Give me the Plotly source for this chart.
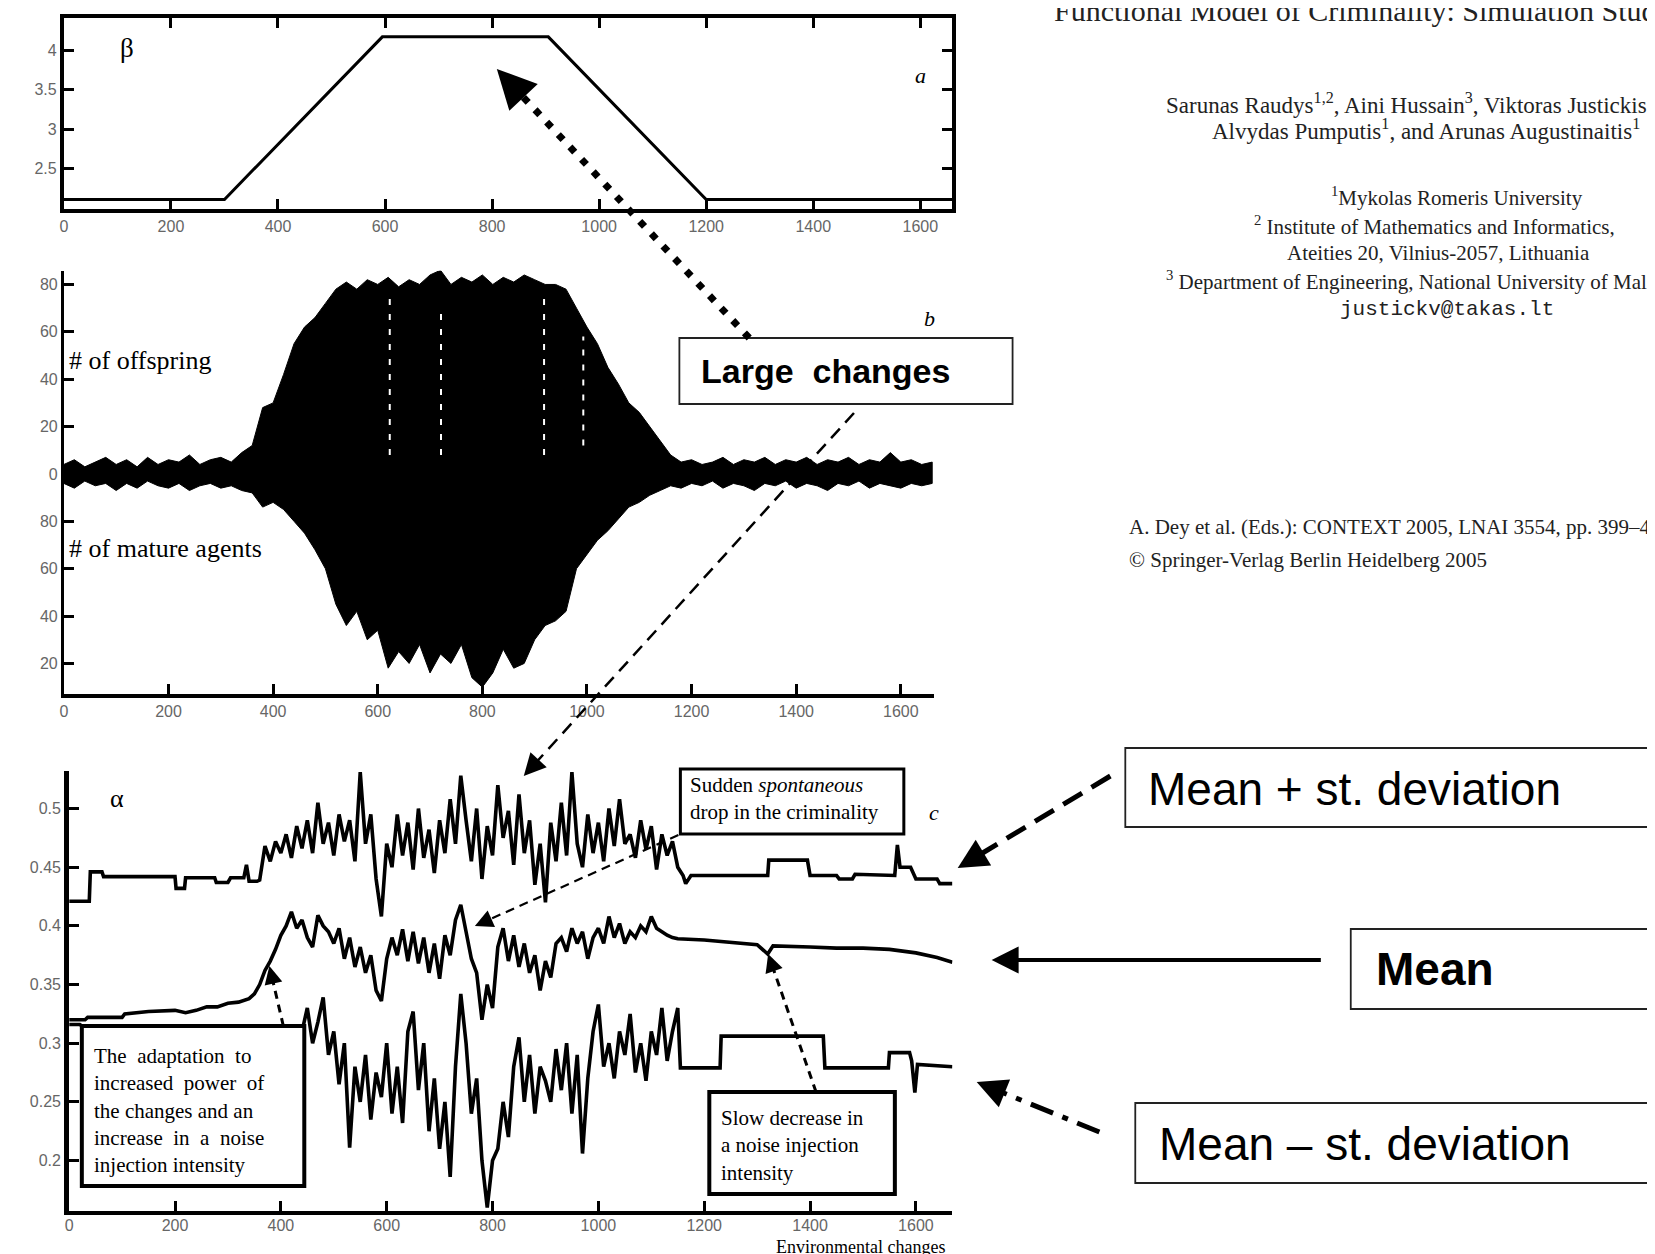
import math
import plotly.graph_objects as go

W, H = 1655, 1254

# ---------------- data ----------------
# panel a: beta
beta_x = [0, 300, 595, 905, 1200, 1660]
beta_y = [2.11, 2.11, 4.17, 4.17, 2.11, 2.11]

# panel b: envelope of the offspring (up) / mature agents (down, deviation from 100)
off_x = [0, 20, 40, 60, 80, 100, 120, 140, 160, 180, 200, 220, 240, 260, 280, 300, 320, 340,
         360, 380, 400, 420, 440, 460, 480, 500, 520, 540, 560, 580, 600, 620, 640, 660, 680,
         700, 720, 740, 760, 780, 800, 820, 840, 860, 880, 900, 920, 940, 960, 980, 1000, 1020,
         1040, 1060, 1080, 1100, 1120, 1140, 1160, 1180, 1200, 1220, 1240, 1260, 1280, 1300,
         1320, 1340, 1360, 1380, 1400, 1420, 1440, 1460, 1480, 1500, 1520, 1540, 1560, 1580,
         1600, 1620, 1640, 1660]
offspring_top = [4, 6, 3, 5, 7, 4, 6, 3, 7, 4, 6, 5, 8, 4, 6, 7, 5, 9,
                 12, 28, 30, 42, 55, 62, 66, 72, 78, 81, 78, 82, 80, 83, 79, 82, 80,
                 84, 86, 80, 83, 81, 84, 80, 83, 81, 84, 82, 80, 80, 78, 70, 62, 55,
                 45, 38, 30, 26, 20, 14, 8, 5, 6, 4, 5, 7, 4, 6,
                 5, 7, 4, 6, 5, 7, 4, 6, 5, 7, 4, 6, 5, 9,
                 5, 6, 4, 5]
mature_dev = [-4, -6, -3, -5, -4, -7, -4, -6, -3, -5, -6, -4, -7, -5, -4, -6, -5, -7,
              -8, -14, -12, -15, -20, -25, -32, -40, -55, -64, -58, -70, -66, -82, -75, -80, -72,
              -84, -76, -80, -72, -86, -90, -84, -74, -82, -80, -70, -64, -62, -58, -40, -34, -28,
              -24, -19, -14, -12, -9, -7, -5, -6, -4, -5, -3, -6, -4, -5,
              -7, -4, -5, -3, -6, -4, -5, -7, -4, -5, -3, -6, -4, -5,
              -6, -4, -5, -4]
# white gaps (missing samples) visible inside the offspring burst
gap_x = [623, 721, 918, 993]
gap_top = [76, 70, 74, 58]
gap_bottom = [8, 8, 8, 12]

# panel c: alpha statistics
noisy_x = [360, 370, 380, 390, 400, 410, 420, 430, 440, 450, 460, 470, 480, 490, 500, 510, 520,
           530, 540, 550, 560, 570, 580, 590, 600, 610, 620, 630, 640, 650, 660, 670, 680, 690,
           700, 710, 720, 730, 740, 750, 760, 770, 780, 790, 800, 810, 820, 830, 840, 850, 860,
           870, 880, 890, 900, 910, 920, 930, 940, 950, 960, 970, 980, 990, 1000, 1010, 1020,
           1030, 1040, 1050, 1060, 1070, 1080, 1090, 1100, 1110, 1120, 1130, 1140, 1150]

top_x = ([0, 38, 40, 62, 65, 200, 202, 218, 220, 275, 278, 300, 305, 330, 335, 340, 355]
         + noisy_x
         + [1160, 1165, 1175, 1320, 1322, 1395, 1400, 1450, 1455, 1480, 1485, 1560, 1565,
            1570, 1590, 1600, 1640, 1645, 1669])
top_y = ([0.421, 0.421, 0.446, 0.446, 0.442, 0.442, 0.432, 0.432, 0.441, 0.441, 0.437, 0.437,
          0.441, 0.441, 0.452, 0.438, 0.438]
         + [0.439, 0.468, 0.455, 0.472, 0.462, 0.478, 0.458, 0.485, 0.466, 0.490, 0.462, 0.505,
            0.470, 0.488, 0.460, 0.495, 0.472, 0.490, 0.455, 0.531, 0.470, 0.495, 0.440, 0.408,
            0.470, 0.450, 0.495, 0.460, 0.488, 0.448, 0.500, 0.458, 0.482, 0.445, 0.490, 0.462,
            0.508, 0.470, 0.528, 0.490, 0.455, 0.500, 0.440, 0.485, 0.460, 0.520, 0.475, 0.498,
            0.452, 0.512, 0.462, 0.490, 0.435, 0.470, 0.420, 0.488, 0.455, 0.505, 0.460, 0.531,
            0.470, 0.450, 0.495, 0.462, 0.488, 0.455, 0.500, 0.468, 0.508, 0.470, 0.478, 0.458,
            0.490, 0.465, 0.485, 0.448, 0.478, 0.460, 0.472, 0.450]
         + [0.443, 0.436, 0.443, 0.443, 0.456, 0.456, 0.443, 0.443, 0.440, 0.440, 0.444, 0.443,
            0.469, 0.450, 0.450, 0.440, 0.440, 0.436, 0.436])

mean_x = ([0, 30, 35, 100, 105, 150, 200, 220, 240, 260, 280, 300, 320, 340, 350, 360, 370,
           380, 390, 400, 410, 420]
          + noisy_x[7:]
          + [1200, 1250, 1300, 1320, 1330, 1400, 1450, 1500, 1550, 1600, 1640, 1669])
mean_y = ([0.320, 0.320, 0.322, 0.322, 0.325, 0.327, 0.328, 0.326, 0.328, 0.331, 0.331, 0.334,
           0.335, 0.338, 0.342, 0.350, 0.362, 0.370, 0.380, 0.392, 0.400, 0.412]
          + [0.398, 0.405, 0.390, 0.382, 0.409, 0.400, 0.395, 0.385, 0.398, 0.372, 0.390, 0.365,
             0.382, 0.360, 0.375, 0.345, 0.336, 0.372, 0.390, 0.375, 0.397, 0.370, 0.395, 0.368,
             0.390, 0.360, 0.385, 0.355, 0.392, 0.375, 0.405, 0.418, 0.395, 0.372, 0.360, 0.320,
             0.350, 0.330, 0.382, 0.398, 0.370, 0.392, 0.365, 0.385, 0.360, 0.375, 0.345, 0.370,
             0.356, 0.385, 0.390, 0.378, 0.398, 0.385, 0.395, 0.372, 0.390, 0.398, 0.385, 0.408,
             0.390, 0.402, 0.385, 0.395, 0.390, 0.400, 0.395, 0.408, 0.398, 0.395, 0.392, 0.390,
             0.389]
          + [0.388, 0.386, 0.384, 0.376, 0.383, 0.382, 0.381, 0.381, 0.380, 0.377, 0.373, 0.369])

low_x = ([0, 20, 40, 440]
         + noisy_x[9:]
         + [1155, 1230, 1232, 1425, 1428, 1548, 1550, 1588, 1592, 1598, 1603, 1669])
low_y = ([0.316, 0.316, 0.310, 0.310]
         + [0.330, 0.300, 0.318, 0.339, 0.290, 0.310, 0.265, 0.300, 0.211, 0.280, 0.250, 0.290,
            0.235, 0.275, 0.254, 0.300, 0.240, 0.280, 0.232, 0.310, 0.327, 0.260, 0.300, 0.225,
            0.270, 0.210, 0.250, 0.186, 0.280, 0.342, 0.300, 0.240, 0.270, 0.200, 0.160, 0.200,
            0.210, 0.250, 0.220, 0.280, 0.305, 0.250, 0.290, 0.240, 0.280, 0.268, 0.250, 0.295,
            0.260, 0.300, 0.240, 0.290, 0.206, 0.270, 0.310, 0.333, 0.280, 0.300, 0.270, 0.310,
            0.290, 0.325, 0.275, 0.300, 0.268, 0.310, 0.290, 0.330, 0.285, 0.310, 0.330]
         + [0.279, 0.279, 0.306, 0.306, 0.279, 0.279, 0.292, 0.292, 0.285, 0.258, 0.282, 0.280])

x_ticks = [0, 200, 400, 600, 800, 1000, 1200, 1400, 1600]
a_ticks = [2.5, 3, 3.5, 4]
b_ticks = [80, 60, 40, 20, 0, -20, -40, -60, -80]
b_ticktext = ["80", "60", "40", "20", "0", "80", "60", "40", "20"]
c_ticks = [0.2, 0.25, 0.3, 0.35, 0.4, 0.45, 0.5]


def X(px):
    return px / W


def Y(py):
    return 1 - py / H


fig = go.Figure()
fig.add_trace(go.Scatter(x=beta_x, y=beta_y, mode="lines", line=dict(color="black", width=3),
                         xaxis="x", yaxis="y", hoverinfo="skip"))
fig.add_trace(go.Scatter(x=off_x + off_x[::-1], y=offspring_top + mature_dev[::-1], mode="lines",
                         fill="toself", fillcolor="black", line=dict(color="black", width=1),
                         xaxis="x2", yaxis="y2", hoverinfo="skip"))
for gx, gt, gb in zip(gap_x, gap_top, gap_bottom):
    fig.add_trace(go.Scatter(x=[gx, gx], y=[gb, gt], mode="lines",
                             line=dict(color="white", width=2, dash="6px,9px"),
                             xaxis="x2", yaxis="y2", hoverinfo="skip"))
for xs, ys in [(top_x, top_y), (mean_x, mean_y), (low_x, low_y)]:
    fig.add_trace(go.Scatter(x=xs, y=ys, mode="lines", line=dict(color="black", width=3.6),
                             xaxis="x3", yaxis="y3", hoverinfo="skip"))

tickfont = dict(family="Liberation Sans", size=16, color="#666666")


def ax(domain, rng, lw, mirror=False, **kw):
    d = dict(domain=domain, range=rng, showline=True, linecolor="black", linewidth=lw,
             mirror=mirror, ticks="inside", ticklen=10, tickwidth=3, tickcolor="black",
             showgrid=False, zeroline=False, tickfont=tickfont, fixedrange=True)
    d.update(kw)
    return d


layout = dict(
    width=W, height=H, margin=dict(l=0, r=0, t=0, b=0), showlegend=False,
    paper_bgcolor="white", plot_bgcolor="white",
    xaxis=ax([X(52), X(942.7)], [0, 1660], 4, "ticks", tickvals=x_ticks, anchor="y"),
    yaxis=ax([Y(201), Y(10)], [1.989, 4.409], 4, "ticks", tickvals=a_ticks,
             ticktext=["2.5", "3", "3.5", "4"], anchor="x"),
    xaxis2=ax([X(52), X(924)], [0, 1663], 4, tickvals=x_ticks, anchor="y2"),
    yaxis2=ax([Y(686), Y(262.7)], [-92.9, 85.8], 3, tickvals=b_ticks, ticktext=b_ticktext,
              anchor="x2"),
    xaxis3=ax([X(57.3), X(942.7)], [0, 1669], 4, tickvals=x_ticks, anchor="y3",
              ticklabelstandoff=-3),
    yaxis3=ax([Y(1203), Y(763)], [0.157, 0.532], 5, tickvals=c_ticks,
              ticktext=["0.2", "0.25", "0.3", "0.35", "0.4", "0.45", "0.5"], anchor="x3"),
)

shapes = []
annotations = []


def rect(x0, y0, x1, y1, lw, color="black"):
    shapes.append(dict(type="rect", xref="paper", yref="paper", x0=X(x0), x1=X(x1),
                       y0=Y(y1), y1=Y(y0), line=dict(color=color, width=lw),
                       fillcolor="white", layer="above"))


def text(px, py, s, size, family="Liberation Serif", anchor="left", color="black", bold=False,
         align="left"):
    if bold:
        s = "<b>" + s + "</b>"
    annotations.append(dict(xref="paper", yref="paper", x=X(px), y=Y(py), text=s,
                            showarrow=False, xanchor=anchor, yanchor="middle", align=align,
                            font=dict(family=family, size=size, color=color)))


def arrow(tx, ty, hx, hy, lw, dash, hw, hs, hl):
    dx, dy = tx - hx, ty - hy
    n = math.hypot(dx, dy)
    ux, uy = dx / n, dy / n
    sx, sy = hx + ux * (hl * 0.7), hy + uy * (hl * 0.7)
    shapes.append(dict(type="line", xref="paper", yref="paper", x0=X(tx), y0=Y(ty),
                       x1=X(sx), y1=Y(sy), line=dict(color="black", width=lw, dash=dash),
                       layer="above"))
    annotations.append(dict(xref="paper", yref="paper", x=X(hx), y=Y(hy), text="",
                            showarrow=True, arrowhead=2, arrowsize=hs, arrowwidth=hw,
                            arrowcolor="black", ax=ux * hl, ay=uy * hl,
                            font=dict(size=12)))


# boxes in panel c
rect(670, 761, 894, 826, 3)
rect(70, 1018, 293, 1178, 4)
rect(699, 1084, 885, 1186, 4)
# big boxes
rect(669, 330, 1003, 396, 1.8, "#222222")
rect(1116, 740, 1720, 819, 1.8, "#222222")
rect(1342, 921, 1646, 1001, 1.8, "#222222")
rect(1126, 1095, 1720, 1175, 1.8, "#222222")

# arrows
arrow(739, 330, 486, 61, 7, "7px,10px", 3, 2.6, 26)
arrow(844, 405, 513, 768, 2.5, "13px,8px", 2.2, 2.0, 16)
arrow(1101, 768, 948, 860, 5, "22px,11px", 3, 2.0, 22)
arrow(1312, 952, 982, 952, 4, "solid", 3, 1.8, 18)
arrow(1090, 1124, 967, 1074, 5, "24px,10px,6px,10px", 3, 2.0, 22)
arrow(668, 827, 464, 918, 2.2, "9px,6px", 2, 1.8, 14)
arrow(272, 1018, 258, 958, 3, "8px,6px", 2, 1.8, 14)
arrow(806, 1084, 758, 946, 3, "8px,6px", 2, 1.8, 14)

# panel labels
text(106, 40, "β", 27)
text(911, 68, "<i>a</i>", 22, anchor="center")
text(55, 352, "# of offspring", 26)
text(55, 540, "# of mature agents", 26)
text(920, 311, "<i>b</i>", 22, anchor="center")
text(105, 790, "α", 26, anchor="center")
text(924, 804, "<i>c</i>", 22, anchor="center")
text(851, 1239, "Environmental changes", 18, anchor="center")

# panel c box texts
text(678, 790, "Sudden <i>spontaneous</i><br>drop in the criminality", 21)
text(80, 1102, "The  adaptation  to<br>increased  power  of<br>the changes and an<br>"
     "increase  in  a  noise<br>injection intensity", 21)
text(709, 1137, "Slow decrease in<br>a noise injection<br>intensity", 21)

# big labels
text(689, 363, "Large  changes", 34, family="Liberation Sans", bold=True)
text(1137, 781, "Mean + st. deviation", 46, family="Liberation Sans")
text(1365, 961, "Mean", 46, family="Liberation Sans", bold=True)
text(1148, 1136, "Mean – st. deviation", 46, family="Liberation Sans")

# paper header text
dark = "#222222"
text(1043, 3, "Functional Model of Criminality: Simulation Study", 30, color=dark)
text(1155, 95, "Sarunas Raudys<sup>1,2</sup>, Aini Hussain<sup>3</sup>, Viktoras Justickis<sup>1</sup>,",
     23, color=dark)
text(1201, 122, "Alvydas Pumputis<sup>1</sup>, and Arunas Augustinaitis<sup>1</sup>", 23, color=dark)
text(1448, 188, "<sup>1</sup>Mykolas Romeris University", 21, anchor="center", color=dark)
text(1243, 217, "<sup>2</sup> Institute of Mathematics and Informatics,", 21, color=dark)
text(1276, 245, "Ateities 20, Vilnius-2057, Lithuania", 21, color=dark)
text(1155, 273, "<sup>3</sup> Department of Engineering, National University of Malaysia", 21,
     color=dark)
text(1329, 302, "justickv@takas.lt", 21, family="Liberation Mono", color=dark)
text(1118, 519, "A. Dey et al. (Eds.): CONTEXT 2005, LNAI 3554, pp. 399–412, 2005.", 21, color=dark)
text(1118, 552, "© Springer-Verlag Berlin Heidelberg 2005", 21, color=dark)

layout["shapes"] = shapes
layout["annotations"] = annotations
fig.update_layout(**layout)
fig.write_html("out.html")
